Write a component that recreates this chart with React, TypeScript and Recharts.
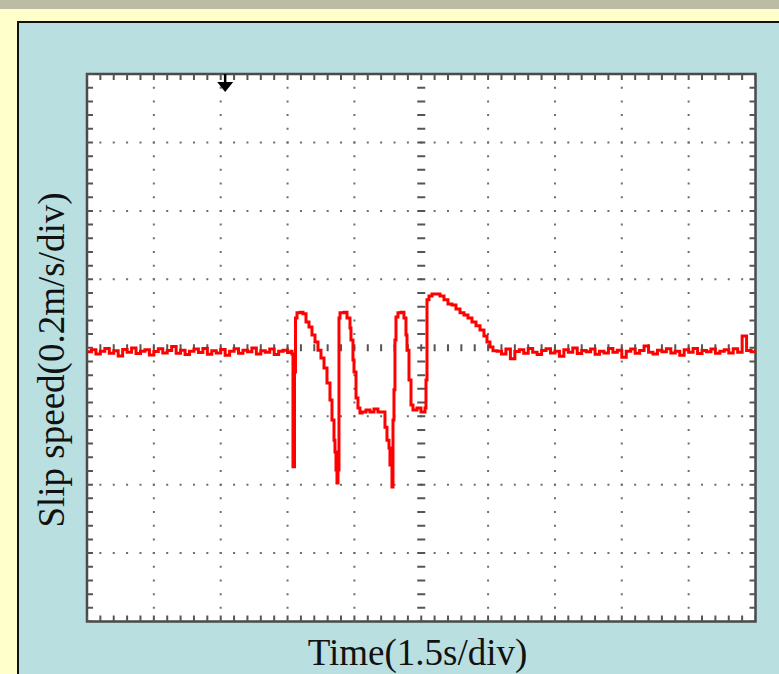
import { LineChart, Line, XAxis, YAxis, ReferenceLine, ReferenceArea, ReferenceDot } from 'recharts';

// oscilloscope capture: time in s (1.5 s/div), slip speed in m/s (0.2 m/s/div)
const sampleStep = 0.1;

const baseBefore = [
  -0.012, -0.006, -0.018, -0.010, -0.002, -0.016, -0.009, -0.024, -0.005, -0.013,
  -0.001, -0.017, -0.010, -0.006, -0.021, -0.011, -0.003, -0.015, -0.008, 0.004,
  -0.016, -0.007, -0.020, -0.010, -0.004, -0.014, -0.002, -0.019, -0.009, -0.015,
  -0.005, -0.022, -0.010, -0.003, -0.016, -0.007, -0.012, -0.001, -0.018, -0.009,
  -0.013, -0.004, -0.020, -0.010, -0.007, -0.014,
];

const slipTimes = [
  4.577, 4.599, 4.622, 4.656, 4.678, 4.712, 4.78, 4.847, 4.914, 4.981,
  5.048, 5.116, 5.183, 5.25, 5.318, 5.385, 5.452, 5.497, 5.542, 5.564,
  5.587, 5.609, 5.632, 5.654, 5.677, 5.766, 5.834, 5.901, 5.923, 5.968,
  5.991, 6.036, 6.08, 6.125, 6.17, 6.26, 6.349, 6.439, 6.529, 6.641,
  6.686, 6.731, 6.776, 6.798, 6.843, 6.866, 6.888, 6.91, 6.933, 6.978,
  7.045, 7.112, 7.157, 7.18, 7.225, 7.27, 7.314, 7.404, 7.494, 7.584,
  7.606, 7.629, 7.673, 7.741, 7.83, 7.92, 8.01, 8.1, 8.189, 8.279,
  8.369, 8.459, 8.548, 8.638, 8.728, 8.818, 8.907, 8.975, 9.042, 9.109,
];

const slipSpeeds = [
  -0.010, -0.018, -0.348, -0.071, 0.087, 0.102, 0.104, 0.099, 0.075, 0.061,
  0.037, 0.017, -0.007, -0.030, -0.059, -0.103, -0.153, -0.211, -0.270, -0.305,
  -0.357, -0.395, -0.357, 0.087, 0.102, 0.104, 0.087, 0.058, 0.023, -0.036,
  -0.071, -0.147, -0.176, -0.191, -0.188, -0.182, -0.188, -0.179, -0.188, -0.188,
  -0.232, -0.270, -0.293, -0.343, -0.407, -0.211, -0.123, 0.023, 0.090, 0.102,
  0.104, 0.087, 0.037, -0.007, -0.094, -0.167, -0.182, -0.176, -0.188, -0.176,
  -0.094, 0.140, 0.151, 0.157, 0.157, 0.151, 0.140, 0.128, 0.125, 0.113,
  0.102, 0.096, 0.087, 0.075, 0.064, 0.052, 0.034, 0.017, 0.002, -0.009,
];

const afterStart = 9.2;
const baseAfter = [
  -0.010, -0.018, -0.004, -0.032, -0.011, -0.006, -0.016, -0.002, -0.013, -0.020,
  -0.008, -0.003, -0.015, -0.010, -0.025, -0.006, -0.013, -0.001, -0.017, -0.008,
  -0.012, -0.004, -0.019, -0.010, -0.015, -0.002, -0.013, -0.007, -0.028, -0.010,
  -0.004, -0.016, -0.008, 0.005, -0.013, -0.018, -0.007, -0.012, -0.003, -0.015,
  -0.010, -0.022, -0.006, -0.013, -0.002, -0.017, -0.008, -0.012, -0.004, -0.016,
  -0.010, -0.006, -0.015, -0.003, -0.013, 0.034, -0.008, -0.012, -0.006,
];

const vGrid = [1.5, 3, 4.5, 6, 9, 10.5, 12, 13.5];
const hGrid = [-0.6, -0.4, -0.2, 0.2, 0.4, 0.6];
const triggerTime = 3.1;

const data = [
  ...baseBefore.map((v, i) => ({ t: +(i * sampleStep).toFixed(2), v })),
  ...slipTimes.map((t, i) => ({ t, v: slipSpeeds[i] })),
  ...baseAfter.map((v, i) => ({ t: +(afterStart + i * sampleStep).toFixed(2), v })),
];

const W = 779;
const H = 674;
const dotV = '2 11.6875'; // 40 minor steps down the height
const dotH = '2 11.37'; // 50 minor steps across the width
const gridColor = '#6e6e6e';
const frameColor = '#4a4a4a';
const serif = '"Liberation Serif", "DejaVu Serif", serif';

function Trigger(props: any) {
  const { cx, cy } = props;
  return (
    <g>
      <line x1={cx} y1={cy} x2={cx} y2={cy + 10} stroke="#000" strokeWidth={2.5} />
      <path d={`M${cx - 8},${cy + 8} L${cx + 8},${cy + 8} L${cx},${cy + 18} Z`} fill="#000" />
    </g>
  );
}

export default function App() {
  return (
    <div style={{ position: 'absolute', left: 0, top: 0, width: W, height: H }}>
      <svg width={W} height={H} style={{ position: 'absolute', left: 0, top: 0 }}>
        <rect x={0} y={0} width={W} height={H} fill="#ffffcc" />
        <rect x={0} y={0} width={W} height={9} fill="#bcbca5" />
        <rect x={18} y={22} width={W} height={H} fill="#b9dfe1" stroke="#111" strokeWidth={2} />
        <text x={417.5} y={665} textAnchor="middle" fontSize={37} fontFamily={serif} fill="#111">
          Time(1.5s/div)
        </text>
        <text
          transform="translate(64,360) rotate(-90)"
          textAnchor="middle"
          fontSize={37}
          fontFamily={serif}
          fill="#111"
        >
          Slip speed(0.2m/s/div)
        </text>
      </svg>
      <div style={{ position: 'absolute', left: 0, top: 0 }}>
        <LineChart width={W} height={H} data={data} margin={{ top: 74, right: 23.5, bottom: 52.5, left: 87 }}>
          <XAxis type="number" dataKey="t" domain={[0, 15]} hide allowDataOverflow />
          <YAxis type="number" domain={[-0.8, 0.8]} hide allowDataOverflow />
          <ReferenceArea x1={0} x2={15} y1={-0.8} y2={0.8} fill="#ffffff" fillOpacity={1} stroke="none" />
          {vGrid.map((x) => (
            <ReferenceLine key={'v' + x} x={x} stroke={gridColor} strokeWidth={2} strokeDasharray={dotV} strokeDashoffset={1} />
          ))}
          {hGrid.map((y) => (
            <ReferenceLine key={'h' + y} y={y} stroke={gridColor} strokeWidth={2} strokeDasharray={dotH} strokeDashoffset={1} />
          ))}
          <ReferenceLine x={7.5} stroke="#555" strokeWidth={8} strokeDasharray={dotV} strokeDashoffset={1} />
          <ReferenceLine y={0} stroke="#555" strokeWidth={7} strokeDasharray={dotH} strokeDashoffset={1} />
          <ReferenceLine x={0} stroke="#555" strokeWidth={12} strokeDasharray={dotV} strokeDashoffset={1} ifOverflow="hidden" />
          <ReferenceLine x={15} stroke="#555" strokeWidth={12} strokeDasharray={dotV} strokeDashoffset={1} ifOverflow="hidden" />
          <ReferenceLine y={0.8} stroke="#555" strokeWidth={12} strokeDasharray={dotH} strokeDashoffset={1} ifOverflow="hidden" />
          <ReferenceLine y={-0.8} stroke="#555" strokeWidth={12} strokeDasharray={dotH} strokeDashoffset={1} ifOverflow="hidden" />
          <Line
            type="stepAfter"
            dataKey="v"
            stroke="#ff0000"
            strokeWidth={3}
            dot={false}
            activeDot={false}
            isAnimationActive={false}
          />
          <ReferenceArea x1={0} x2={15} y1={-0.8} y2={0.8} fill="none" stroke={frameColor} strokeWidth={2.5} />
          <ReferenceDot x={triggerTime} y={0.8} r={0} shape={Trigger} />
        </LineChart>
      </div>
    </div>
  );
}
